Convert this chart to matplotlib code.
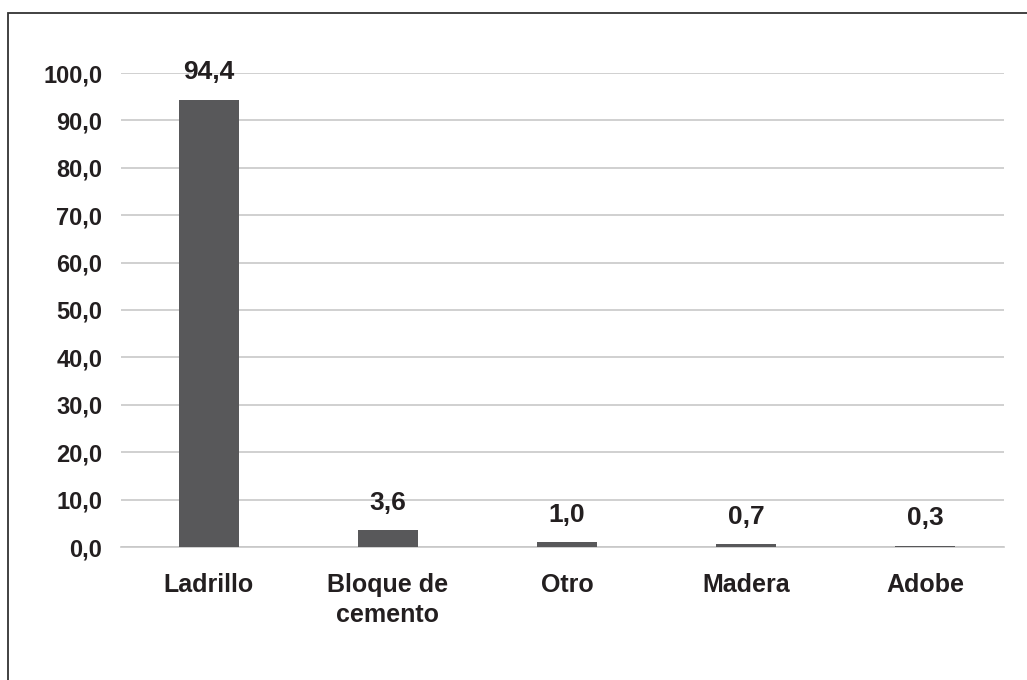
import matplotlib
matplotlib.use("Agg")
import matplotlib.pyplot as plt
from matplotlib.patches import Rectangle
from matplotlib import font_manager

categories = ["Ladrillo", "Bloque de\ncemento", "Otro", "Madera", "Adobe"]
values = [94.4, 3.6, 1.0, 0.7, 0.3]
labels = ["94,4", "3,6", "1,0", "0,7", "0,3"]
yticks = [0, 10, 20, 30, 40, 50, 60, 70, 80, 90, 100]
ytick_labels = ["0,0", "10,0", "20,0", "30,0", "40,0", "50,0", "60,0", "70,0", "80,0", "90,0", "100,0"]

names = {f.name for f in font_manager.fontManager.ttflist}
fam = ["Liberation Sans Narrow"] if "Liberation Sans Narrow" in names else ["Liberation Sans"]
plt.rcParams["font.family"] = fam + ["DejaVu Sans"]

TXT = "#231f20"
BAR = "#58585a"
GRID = "#c8c8c8"

fig = plt.figure(figsize=(10.27, 6.8), dpi=100)
W, H = 1027, 680
# outer border
fig.patches.append(Rectangle((8 / W, 0 - 0.01), 1.1, 1 - 12.5 / H + 0.01, transform=fig.transFigure,
                             fill=False, edgecolor="#333333", linewidth=1.3, zorder=0))

ax = fig.add_axes([121 / W, 1 - 547 / H, (1004 - 121) / W, (547 - 73) / H])
x = list(range(len(categories)))
ax.bar(x, values, width=0.335, color=BAR, zorder=3)
ax.set_xlim(-0.49, 4.44)
ax.set_ylim(0, 100)
ax.set_yticks(yticks)
ax.set_yticklabels(ytick_labels, fontsize=17, fontweight="bold", color=TXT)
ax.set_xticks(x)
ax.set_xticklabels(categories, fontsize=18, fontweight="bold", color=TXT, linespacing=1.3)
ax.tick_params(axis="y", length=0, pad=13.5)
ax.tick_params(axis="x", length=0, pad=19)
ax.grid(axis="y", color=GRID, linewidth=1.2, zorder=0)
for s in ["top", "right", "left"]:
    ax.spines[s].set_visible(False)
ax.spines["bottom"].set_color(GRID)
ax.spines["bottom"].set_linewidth(1.2)
ax.spines["bottom"].set_zorder(1)

for xi, v, lab in zip(x, values, labels):
    ax.annotate(lab, (xi, v), xytext=(0, 14.5), textcoords="offset points",
                ha="center", va="baseline", fontsize=19, fontweight="bold", color=TXT,
                annotation_clip=False)

fig.savefig("out.png", dpi=100)
